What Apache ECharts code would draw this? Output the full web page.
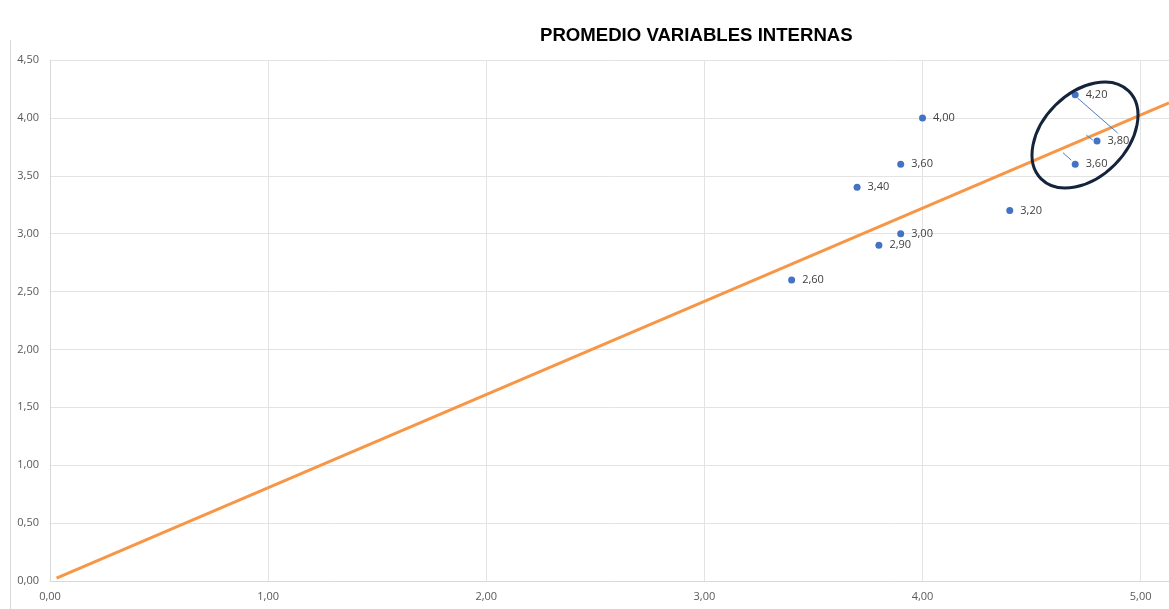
<!DOCTYPE html>
<html>
<head>
<meta charset="utf-8">
<script src="https://cdn.jsdelivr.net/npm/echarts@6/dist/echarts.min.js"></script>
<style>
  html, body { margin: 0; padding: 0; background: #fff; }
  #main { width: 1169px; height: 609px; }
</style>
</head>
<body>
<div id="main"></div>
<script>
// puntos: x = promedio, y = valor
var xValues = [3.4, 3.8, 3.9, 3.7, 3.9, 4.0, 4.4, 4.7, 4.8, 4.7];
var yValues = [2.6, 2.9, 3.0, 3.4, 3.6, 4.0, 3.2, 4.2, 3.8, 3.6];
// linea de tendencia (extremos)
var trendX = [0.03, 5.13];
var trendY = [0.024, 4.13];
// lineas guia de las etiquetas movidas
var leaderLines = [
  [[4.711, 4.171], [4.895, 3.869]],
  [[4.751, 3.851], [4.781, 3.808]],
  [[4.644, 3.699], [4.682, 3.635]]
];

var fmt = function (v) { return Number(v).toFixed(2).replace('.', ','); };

var points = [];
for (var i = 0; i < xValues.length; i++) {
  points.push([xValues[i], yValues[i]]);
}
var trend = [];
for (var j = 0; j < trendX.length; j++) {
  trend.push([trendX[j], trendY[j]]);
}

var chart = echarts.init(document.getElementById('main'));
chart.setOption({
  backgroundColor: '#fff',
  animation: false,
  title: {
    text: 'PROMEDIO VARIABLES INTERNAS',
    left: 535,
    top: 21,
    textStyle: {
      fontFamily: 'Liberation Sans',
      fontWeight: 'bold',
      fontSize: 18.6,
      color: '#000'
    }
  },
  grid: {
    left: 50,
    right: 0,
    top: 60,
    bottom: 28
  },
  xAxis: {
    type: 'value',
    min: 0,
    max: 5.13,
    interval: 1,
    axisLine: { show: true, lineStyle: { color: '#d9d9d9', width: 1 } },
    axisTick: { show: false },
    splitLine: { show: true, lineStyle: { color: '#e3e3e3', width: 1 } },
    axisLabel: {
      color: '#595959',
      fontFamily: 'Open Sans',
      fontSize: 11,
      margin: 10,
      showMaxLabel: false,
      formatter: fmt
    }
  },
  yAxis: {
    type: 'value',
    min: 0,
    max: 4.5,
    interval: 0.5,
    axisLine: { show: true, lineStyle: { color: '#d9d9d9', width: 1 } },
    axisTick: { show: false },
    splitLine: { show: true, lineStyle: { color: '#e3e3e3', width: 1 } },
    axisLabel: {
      color: '#595959',
      fontFamily: 'Open Sans',
      fontSize: 11,
      margin: 11,
      formatter: fmt
    }
  },
  series: [
    {
      name: 'tendencia',
      type: 'line',
      data: trend,
      symbol: 'none',
      lineStyle: { color: '#f79646', width: 3 },
      z: 2
    },
    {
      name: 'guias',
      type: 'scatter',
      data: [],
      silent: true,
      markLine: {
        silent: true,
        symbol: ['none', 'none'],
        label: { show: false },
        lineStyle: { color: '#4a7ebb', width: 1, type: 'solid' },
        data: leaderLines.map(function (seg) {
          return [{ coord: seg[0] }, { coord: seg[1] }];
        })
      },
      z: 3
    },
    {
      name: 'promedio',
      type: 'scatter',
      data: points,
      symbol: 'circle',
      symbolSize: 7,
      itemStyle: { color: '#4472c4', opacity: 1 },
      label: {
        show: true,
        position: 'right',
        distance: 7,
        color: '#404040',
        fontFamily: 'Open Sans',
        fontSize: 11,
        formatter: function (p) { return fmt(p.value[1]); }
      },
      z: 4
    }
  ],
  graphic: [
    {
      type: 'line',
      shape: { x1: 10.5, y1: 40, x2: 10.5, y2: 609 },
      style: { stroke: '#d9d9d9', lineWidth: 1 },
      silent: true
    },
    {
      type: 'ellipse',
      x: 1085,
      y: 135,
      rotation: Math.PI / 4,
      shape: { cx: 0, cy: 0, rx: 62, ry: 42 },
      style: { fill: 'none', stroke: '#14243a', lineWidth: 3 },
      z: 100,
      silent: true
    }
  ]
});
</script>
</body>
</html>
